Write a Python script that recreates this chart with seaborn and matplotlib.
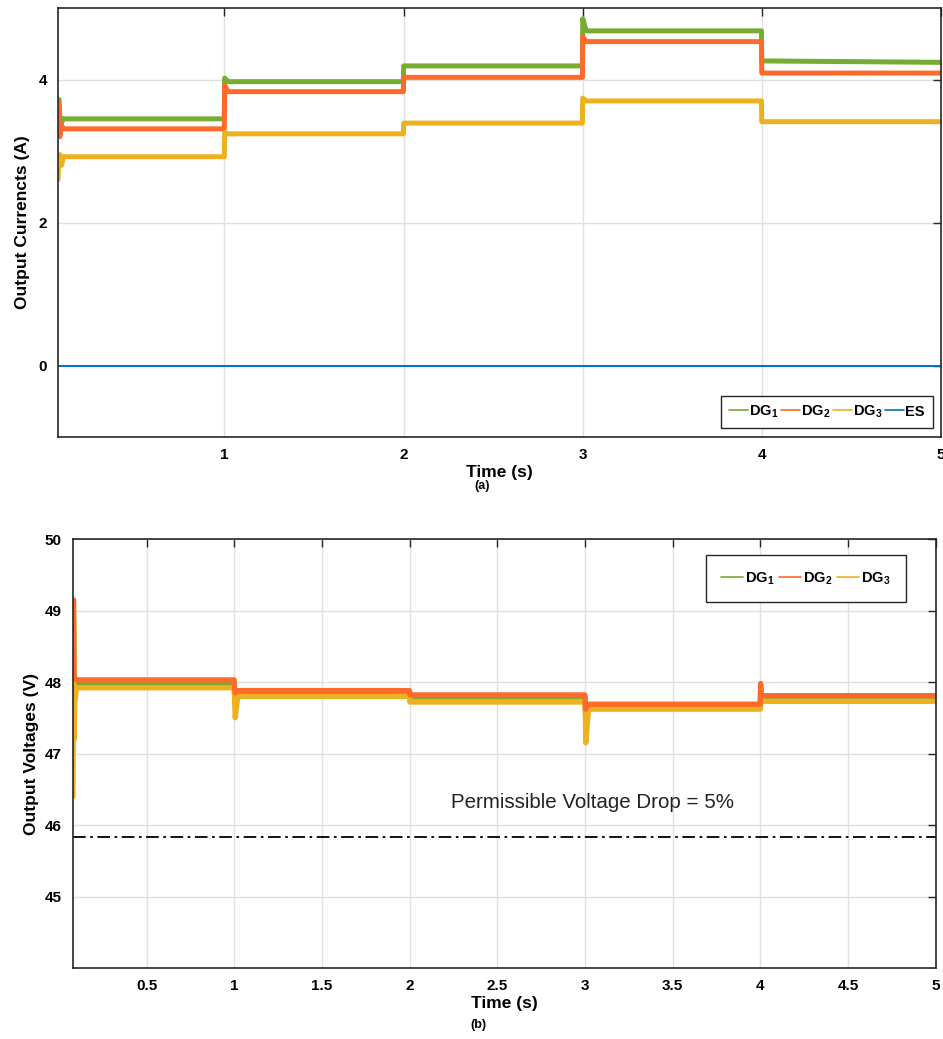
import matplotlib
matplotlib.use("Agg")
import matplotlib.pyplot as plt
import seaborn as sb
import pandas as pd

# currents (A)
t_cur = [0.07, 0.075, 0.08, 0.09, 0.1, 0.999, 1.001, 1.02, 1.999, 2.001, 2.999, 3.001, 3.02, 3.999, 4.001, 5.0]
dg1_cur = [3.62, 3.72, 3.50, 3.40, 3.45, 3.45, 4.02, 3.97, 3.97, 4.19, 4.19, 4.85, 4.68, 4.68, 4.26, 4.24]
dg2_cur = [3.45, 3.66, 3.20, 3.36, 3.31, 3.31, 3.92, 3.83, 3.83, 4.03, 4.03, 4.60, 4.53, 4.53, 4.09, 4.09]
dg3_cur = [2.60, 2.85, 2.95, 2.80, 2.92, 2.92, 3.26, 3.24, 3.24, 3.39, 3.39, 3.74, 3.70, 3.70, 3.41, 3.41]
t_es = [0.07, 5.0]
es_cur = [0.0, 0.0]

# voltages (V)
t_vol = [0.08, 0.083, 0.086, 0.09, 0.1, 0.999, 1.001, 1.005, 1.02, 1.999, 2.001, 2.999, 3.001, 3.004, 3.02, 3.999, 4.001, 4.005, 4.02, 5.0]
dg1_vol = [47.6, 48.9, 47.9, 48.0, 47.97, 47.97, 47.85, 47.7, 47.86, 47.86, 47.79, 47.79, 47.62, 47.5, 47.65, 47.65, 47.9, 47.78, 47.78, 47.78]
dg2_vol = [48.2, 49.15, 48.1, 48.05, 48.03, 48.03, 47.92, 47.85, 47.88, 47.88, 47.82, 47.82, 47.70, 47.62, 47.69, 47.69, 47.98, 47.82, 47.81, 47.81]
dg3_vol = [46.4, 49.0, 47.2, 47.7, 47.92, 47.92, 47.8, 47.5, 47.8, 47.8, 47.72, 47.72, 47.6, 47.15, 47.62, 47.62, 47.85, 47.72, 47.73, 47.73]
v_limit = 45.83

green = '#77AC30'
orange = '#FF6A2A'
yellow = '#EDB120'
blue = '#0072BD'

sb.set_style("whitegrid")
plt.rcParams['font.family'] = ['Liberation Sans', 'DejaVu Sans']
plt.rcParams['mathtext.fontset'] = 'custom'
plt.rcParams['mathtext.rm'] = 'Liberation Sans:bold'
plt.rcParams['mathtext.bf'] = 'Liberation Sans:bold'
plt.rcParams['mathtext.default'] = 'bf'
plt.rcParams['text.color'] = 'black'
plt.rcParams['axes.labelcolor'] = 'black'

fig = plt.figure(figsize=(9.43, 10.39), dpi=100)
ax1 = fig.add_axes([0.0615, 0.5794, 0.936, 0.4129])
ax2 = fig.add_axes([0.0774, 0.0683, 0.915, 0.4129])

cur = pd.concat([
    pd.DataFrame({'t': t_cur, 'i': dg1_cur, 's': 'DG1'}),
    pd.DataFrame({'t': t_cur, 'i': dg2_cur, 's': 'DG2'}),
    pd.DataFrame({'t': t_cur, 'i': dg3_cur, 's': 'DG3'}),
])
sb.lineplot(data=cur, x='t', y='i', hue='s', estimator=None, sort=False,
            palette={'DG1': green, 'DG2': orange, 'DG3': yellow},
            linewidth=3.6, ax=ax1)
sb.lineplot(x=t_es, y=es_cur, color=blue, linewidth=1.4, label='ES', ax=ax1)

vol = pd.concat([
    pd.DataFrame({'t': t_vol, 'v': dg1_vol, 's': 'DG1'}),
    pd.DataFrame({'t': t_vol, 'v': dg3_vol, 's': 'DG3'}),
    pd.DataFrame({'t': t_vol, 'v': dg2_vol, 's': 'DG2'}),
])
sb.lineplot(data=vol, x='t', y='v', hue='s', estimator=None, sort=False,
            palette={'DG1': green, 'DG2': orange, 'DG3': yellow},
            linewidth=3.8, ax=ax2)
ax2.axhline(v_limit, color='black', linestyle=(0, (7, 2.5, 1.5, 2.5)), linewidth=1.3)
ax2.text(3.04, 46.31, 'Permissible Voltage Drop = 5%', ha='center', va='center',
         fontsize=14.8, color='#222222')

ax1.set_xlim(0.07, 5)
ax1.set_ylim(-1, 5)
ax1.set_xticks([1, 2, 3, 4, 5])
ax1.set_yticks([0, 2, 4])
ax2.set_xlim(0.08, 5)
ax2.set_ylim(44, 50)
ax2.set_xticks([0.5, 1, 1.5, 2, 2.5, 3, 3.5, 4, 4.5, 5])
ax2.set_xticklabels(['0.5', '1', '1.5', '2', '2.5', '3', '3.5', '4', '4.5', '5'])
ax2.set_yticks([45, 46, 47, 48, 49, 50])

ax1.set_xlabel('Time (s)', fontsize=12.5, fontweight='bold', labelpad=2)
ax1.set_ylabel('Output Currencts (A)', fontsize=12.5, fontweight='bold', labelpad=6)
ax2.set_xlabel('Time (s)', fontsize=12.5, fontweight='bold', labelpad=2)
ax2.set_ylabel('Output Voltages (V)', fontsize=12.5, fontweight='bold', labelpad=4)

for ax in (ax1, ax2):
    ax.grid(True, color='#E0E0E0', linewidth=1)
    for sp in ax.spines.values():
        sp.set_color('#262626')
        sp.set_linewidth(1.2)
        sp.set_visible(True)
    ax.tick_params(direction='in', length=6, width=1, top=True, right=True,
                   labelsize=11, colors='#262626', labelcolor='black', pad=8)
    for lab in ax.get_xticklabels() + ax.get_yticklabels():
        lab.set_fontweight('bold')

names = ['DG$_1$', 'DG$_2$', 'DG$_3$', 'ES']
h1, l1 = ax1.get_legend_handles_labels()
leg1 = ax1.legend(h1, names, loc='lower right', ncol=4, handlelength=1.3,
                  handletextpad=0.1, columnspacing=0.15, borderpad=0.55,
                  borderaxespad=0, frameon=True, fancybox=False, framealpha=1,
                  edgecolor='#262626', prop={'weight': 'bold', 'size': 10.5},
                  bbox_to_anchor=(0.991, 0.021))
for ln in leg1.get_lines():
    ln.set_linewidth(1.2)

h2, l2 = ax2.get_legend_handles_labels()
order = [l2.index('DG1'), l2.index('DG2'), l2.index('DG3')]
leg2 = ax2.legend([h2[k] for k in order], names[:3], loc='upper right', ncol=3,
                  handlelength=1.5, handletextpad=0.15, columnspacing=0.3,
                  borderpad=1.05, borderaxespad=0, frameon=True, fancybox=False,
                  framealpha=1, edgecolor='#262626',
                  prop={'weight': 'bold', 'size': 10.5},
                  bbox_to_anchor=(0.965, 0.963))
for ln in leg2.get_lines():
    ln.set_linewidth(1.2)

fig.text(0.511, 0.532, '(a)', ha='center', va='center', fontsize=9, fontweight='bold')
fig.text(0.507, 0.013, '(b)', ha='center', va='center', fontsize=9, fontweight='bold')

fig.savefig('out.png', dpi=100)
